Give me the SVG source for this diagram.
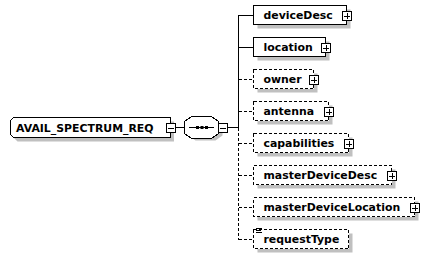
<svg xmlns="http://www.w3.org/2000/svg" xmlns:xlink="http://www.w3.org/1999/xlink" width="430" height="263" viewBox="0 0 430 263">
  <style>
    .lbl { font-family: "DejaVu Sans", Verdana, sans-serif; font-weight: bold; font-size: 10.9px; fill: #000; }
    .box { fill: #fff; stroke: #000; stroke-width: 1; shape-rendering: crispEdges; }
    .opt { stroke-dasharray: 3 2; }
    .shadow { fill: #c0c0c0; stroke: none; }
    .ln { stroke: #000; stroke-width: 1; fill: none; shape-rendering: crispEdges; }
    .dash { stroke-dasharray: 3 2; }
  </style>
  <defs>
    <!-- expand / collapse buttons -->
    <g id="plus">
      <rect x="-4.5" y="-4.5" width="9" height="9" fill="#fff" stroke="#000" shape-rendering="crispEdges"/>
      <path d="M-3 0H3M0 -3V3" stroke="#000" shape-rendering="crispEdges"/>
    </g>
    <g id="minus">
      <rect x="-4.5" y="-4.5" width="9" height="9" fill="#fff" stroke="#000" shape-rendering="crispEdges"/>
      <path d="M-3 0H3" stroke="#000" shape-rendering="crispEdges"/>
    </g>
  </defs>

  <!-- connectors -->
  <g id="connectors">
    <path class="ln" d="M174 127.5H185"/>
    <path class="ln" d="M227 127.5H238.5"/>
    <path class="ln" d="M238.5 15V127.5"/>
    <path class="ln dash" d="M238.5 127.5V239.5"/>
    <path class="ln" d="M238.5 15.5H253.5M238.5 47.5H253.5"/>
    <path class="ln dash" d="M238.5 79.5H253.5M238.5 111.5H253.5M238.5 143.5H253.5M238.5 175.5H253.5M238.5 207.5H253.5M238.5 239.5H253.5"/>
  </g>

  <!-- root element -->
  <g id="AVAIL_SPECTRUM_REQ">
    <polygon class="shadow" points="17.5,121.5 174,121.5 174,141.5 17.5,141.5 14.5,138.5 14.5,124.5"/>
    <polygon class="box" points="13.5,117.5 170.5,117.5 170.5,137.5 13.5,137.5 10.5,134.5 10.5,120.5"/>
    <text class="lbl" x="16" y="131.5">AVAIL_SPECTRUM_REQ</text>
    <use xlink:href="#minus" x="171" y="128"/>
  </g>

  <!-- sequence compositor -->
  <g id="sequence">
    <polygon class="shadow" points="188.5,125.5 195.5,120.5 215.5,120.5 222.5,125.5 222.5,135.5 215.5,140.5 195.5,140.5 188.5,135.5"/>
    <polygon class="box" points="184.5,121.5 191.5,116.5 211.5,116.5 218.5,121.5 218.5,133.5 211.5,138.5 191.5,138.5 184.5,133.5"/>
    <path class="ln" d="M189 127.5H214"/>
    <rect x="196" y="126" width="3" height="3" fill="#000"/>
    <rect x="200.5" y="126" width="3" height="3" fill="#000"/>
    <rect x="205" y="126" width="3" height="3" fill="#000"/>
    <use xlink:href="#minus" x="223" y="128"/>
  </g>

  <!-- child elements -->
  <g id="deviceDesc">
    <rect class="shadow" x="257.5" y="9.5" width="93" height="19"/>
    <rect class="box" x="253.5" y="5.5" width="93" height="19"/>
    <text class="lbl" x="263.5" y="19">deviceDesc</text>
    <use xlink:href="#plus" x="347" y="16"/>
  </g>

  <g id="location">
    <rect class="shadow" x="257.5" y="41.5" width="72" height="19"/>
    <rect class="box" x="253.5" y="37.5" width="72" height="19"/>
    <text class="lbl" x="263.5" y="51">location</text>
    <use xlink:href="#plus" x="326" y="48"/>
  </g>

  <g id="owner">
    <rect class="shadow" x="257.5" y="73.5" width="60" height="19"/>
    <rect class="box opt" x="253.5" y="69.5" width="60" height="19"/>
    <text class="lbl" x="263.5" y="83">owner</text>
    <use xlink:href="#plus" x="314" y="80"/>
  </g>

  <g id="antenna">
    <rect class="shadow" x="257.5" y="105.5" width="75" height="19"/>
    <rect class="box opt" x="253.5" y="101.5" width="75" height="19"/>
    <text class="lbl" x="263.5" y="115">antenna</text>
    <use xlink:href="#plus" x="329" y="112"/>
  </g>

  <g id="capabilities">
    <rect class="shadow" x="257.5" y="137.5" width="95" height="19"/>
    <rect class="box opt" x="253.5" y="133.5" width="95" height="19"/>
    <text class="lbl" x="263.5" y="147">capabilities</text>
    <use xlink:href="#plus" x="349" y="144"/>
  </g>

  <g id="masterDeviceDesc">
    <rect class="shadow" x="257.5" y="169.5" width="138" height="19"/>
    <rect class="box opt" x="253.5" y="165.5" width="138" height="19"/>
    <text class="lbl" x="263.5" y="179">masterDeviceDesc</text>
    <use xlink:href="#plus" x="392" y="176"/>
  </g>

  <g id="masterDeviceLocation">
    <rect class="shadow" x="257.5" y="201.5" width="161" height="19"/>
    <rect class="box opt" x="253.5" y="197.5" width="161" height="19"/>
    <text class="lbl" x="263.5" y="211">masterDeviceLocation</text>
    <use xlink:href="#plus" x="415" y="208"/>
  </g>

  <g id="requestType">
    <rect class="shadow" x="257.5" y="233.5" width="95" height="19"/>
    <rect class="box opt" x="253.5" y="229.5" width="95" height="19"/>
    <!-- simple-type marker -->
    <path class="ln" d="M256 228.5H262M256 230.5H261M256 232.5H262"/>
    <text class="lbl" x="263.5" y="243">requestType</text>
  </g>
</svg>
